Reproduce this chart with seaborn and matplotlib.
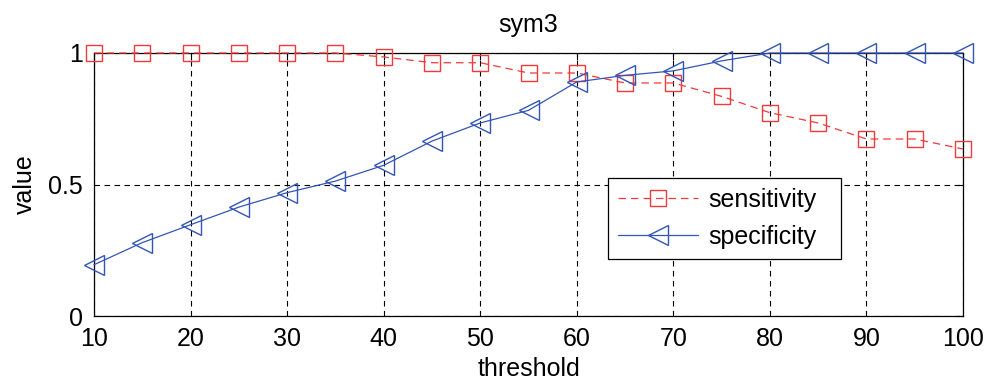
import matplotlib
matplotlib.use("Agg")
import matplotlib.pyplot as plt
import seaborn as sns
import numpy as np

threshold = [10, 15, 20, 25, 30, 35, 40, 45, 50, 55, 60, 65, 70, 75, 80, 85, 90, 95, 100]
sensitivity = [1.0, 1.0, 1.0, 1.0, 1.0, 1.0, 0.985, 0.963, 0.963, 0.924, 0.924,
               0.886, 0.886, 0.835, 0.773, 0.734, 0.673, 0.673, 0.635]
specificity = [0.195, 0.279, 0.347, 0.414, 0.469, 0.513, 0.573, 0.665, 0.734, 0.782,
               0.890, 0.915, 0.932, 0.970, 1.0, 1.0, 1.0, 1.0, 1.0]
xticks = [10, 20, 30, 40, 50, 60, 70, 80, 90, 100]
yticks = [0, 0.5, 1]
ytick_labels = ["0", "0.5", "1"]

sns.set_style("white")
plt.rcParams['font.family'] = ['Liberation Sans', 'DejaVu Sans']
plt.rcParams['font.size'] = 18
plt.rcParams['text.color'] = 'black'
plt.rcParams['axes.labelcolor'] = 'black'

fig = plt.figure(figsize=(9.85, 3.8), dpi=100)
ax = fig.add_axes([94/985, 1-316/380, 869/985, 263/380])

red = '#f03a3a'
blue = '#3355b5'
sns.lineplot(x=threshold, y=sensitivity, ax=ax, color=red,
             marker='s', markersize=11.5, markerfacecolor='none',
             markeredgecolor=red, markeredgewidth=1.0, linewidth=0.9,
             label='sensitivity', clip_on=False, zorder=5)
sns.lineplot(x=threshold, y=specificity, ax=ax, color=blue, linestyle='-',
             marker='<', markersize=14, markerfacecolor='none',
             markeredgecolor=blue, markeredgewidth=1.0, linewidth=0.9,
             label='specificity', clip_on=False, zorder=5)
ax.lines[0].set_dashes([6, 4])

ax.set_xlim(10, 100)
ax.set_ylim(0, 1)
ax.set_xticks(xticks)
ax.set_yticks(yticks)
ax.set_yticklabels(ytick_labels)
ax.grid(True, color='black', linestyle=(0, (5, 4)), linewidth=0.8)
ax.set_axisbelow(True)
for s in ax.spines.values():
    s.set_color('black')
    s.set_linewidth(0.9)
ax.tick_params(direction='in', length=5, width=0.8, top=True, right=True,
               labelsize=18, colors='black', labelcolor='black', pad=8)
ax.set_title('sym3', fontsize=18, pad=15, color='black')
ax.set_xlabel('threshold', fontsize=18, labelpad=4, color='black')
ax.set_ylabel('value', fontsize=18, labelpad=8, color='black')

leg = ax.legend(loc='upper left', bbox_to_anchor=(0.5915, 0.205, 0.268, 0.319),
                mode='expand', fancybox=False, edgecolor='black', framealpha=1,
                handlelength=3.2, handletextpad=0.4, fontsize=18, borderaxespad=0,
                labelspacing=0.5, borderpad=0.4)
leg.get_frame().set_linewidth(0.9)
for t in leg.get_texts():
    t.set_color('black')
leg.set_zorder(10)

fig.savefig('out.png', dpi=100)
